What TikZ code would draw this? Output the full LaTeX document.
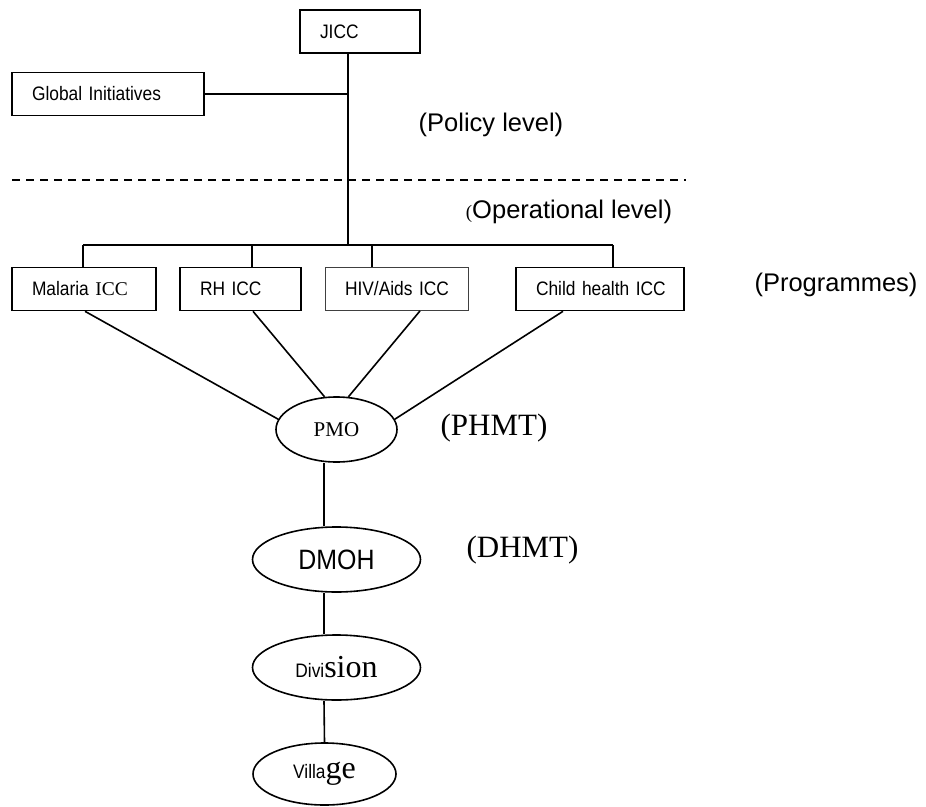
\documentclass[tikz,border=0pt]{standalone}
\usepackage{fontspec}
\setmainfont{Liberation Serif}
\setsansfont{Liberation Sans}
\newfontfamily\narrowsf[FakeStretch=0.89]{Liberation Sans}
\usetikzlibrary{shapes.geometric}
\newcommand{\lblsf}{\narrowsf\fontsize{19.5}{22}\selectfont}
\newcommand{\lblrm}{\rmfamily\fontsize{32}{36}\selectfont}
\tikzset{
	icc/.style={draw, rectangle, line width=1.6pt, inner xsep=20pt, inner ysep=0pt, minimum height=43pt, align=left, font=\lblsf},
	team/.style={draw, ellipse, line width=1.6pt, inner sep=0pt},
	level/.style={font=\sffamily\fontsize{25.5}{30}\selectfont},
	tier/.style={font=\rmfamily\fontsize{31}{36}\selectfont},
}

\begin{document}
\begin{tikzpicture}[x=1pt, y=-1pt]
		\useasboundingbox (0,0) rectangle (926,806);
		
		\node (jicc) [icc, text width=80pt] at (360,31.5) {JICC};
		
		\node (global) [icc, text width=152pt] at (108,94) {\mbox{Global Initiatives}};
		
		\node (policy) [level] at (491,125) {(Policy level)};
		
		\draw [dash pattern=on 8pt off 6pt, line width=1.2pt] (12,180) -- (686,180);
		
		\node (operational) [level] at (569,212) {{\rmfamily\fontsize{19}{22}\selectfont(}Operational level)};
		
		% programme ICCs
		\node (malaria) [icc, text width=104pt] at (84,289) {\mbox{Malaria {\rmfamily ICC}}};
		\node (rh) [icc, text width=81pt] at (240.5,289) {\mbox{RH ICC}};
		\node (hiv) [icc, text width=103pt, line width=0.8pt, draw=black!75] at (396.5,289) {\mbox{HIV/Aids ICC}};
		\node (child) [icc, text width=128pt] at (600,289) {\mbox{Child health ICC}};
		
		\node (programmes) [level] at (836,285) {(Programmes)};
		
		\node (pmo) [team, minimum width=121pt, minimum height=65pt, font=\rmfamily\fontsize{21}{24}\selectfont] at (336.5,429.5) {PMO};
		\node (phmt) [tier] at (494,428) {(PHMT)};
		
		\node (dmoh) [team, minimum width=168pt, minimum height=65pt, font=\narrowsf\fontsize{28}{32}\selectfont] at (336.5,559.5) {DMOH};
		\node (dhmt) [tier] at (522.5,550) {(DHMT)};
		
		\node (division) [team, minimum width=168pt, minimum height=65pt] at (336.5,667.5) {\lblsf Divi\lblrm sion};
		
		\node (village) [team, minimum width=143pt, minimum height=62pt] at (324.5,774) {\lblsf Villa\lblrm ge};
		
		\begin{scope}[line width=1.6pt, black]
			\coordinate (spine) at (348,245);
			\coordinate (busL) at (83,245);
			\coordinate (busR) at (613,245);
			\draw ([xshift=-12pt]jicc.south) -- (spine);
			\draw (global.east) -- (global.east -| spine);
			\draw (busL) -- (busR);
			\foreach \n/\s in {malaria/-1, rh/11.5, hiv/-24.5, child/13}
				\draw ([xshift=\s pt]\n.north) -- ([xshift=\s pt]\n.north |- busL);
			\foreach \n/\s/\a in {malaria/1/170, rh/12.5/110, hiv/23.5/70, child/-37/10}
				\draw ([xshift=\s pt]\n.south) -- (pmo.\a);
			\draw ([xshift=-12.5pt]pmo.south) -- ([xshift=-12.5pt]pmo.south |- dmoh.north);
			\draw ([xshift=-12.5pt]dmoh.south) -- ([xshift=-12.5pt]dmoh.south |- division.north);
			\draw ([xshift=-12.5pt]division.south) -- (village.north);
		\end{scope}
	\end{tikzpicture}
\end{document}
